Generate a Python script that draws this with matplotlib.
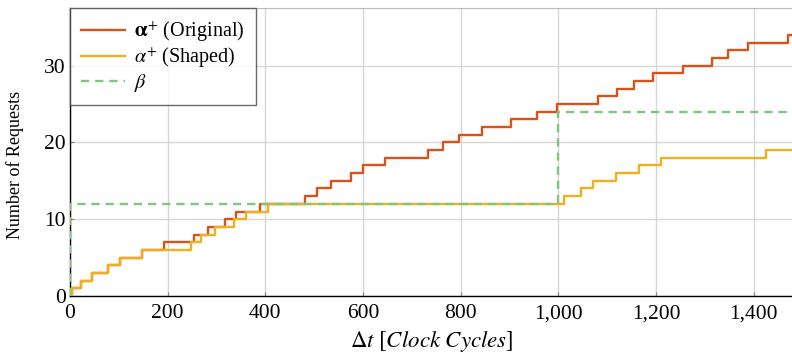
import matplotlib
matplotlib.use("Agg")
import matplotlib.pyplot as plt
from matplotlib.ticker import FuncFormatter

# Step positions (x where count increments)
orig_x = [0, 4, 23, 45, 78, 103, 148, 193, 254, 283, 317, 341, 389, 482, 506, 534,
          575, 600, 645, 733, 764, 797, 844, 904, 957, 998, 1082, 1120, 1154, 1194,
          1255, 1314, 1348, 1389, 1471, 1490]
orig_y = [0, 1, 2, 3, 4, 5, 6, 7, 8, 9, 10, 11, 12, 13, 14, 15,
          16, 17, 18, 19, 20, 21, 22, 23, 24, 25, 26, 27, 28, 29,
          30, 31, 32, 33, 34, 34]

shaped_x = [0, 4, 23, 45, 78, 103, 148, 247, 269, 296, 336, 360, 406, 1012, 1046,
            1070, 1117, 1166, 1211, 1426, 1490]
shaped_y = [0, 1, 2, 3, 4, 5, 6, 7, 8, 9, 10, 11, 12, 13, 14,
            15, 16, 17, 18, 19, 19]

beta_x = [0, 0, 1000, 1000, 1490]
beta_y = [0, 12, 12, 24, 24]

xticks = [0, 200, 400, 600, 800, 1000, 1200, 1400]
yticks = [0, 10, 20, 30]

plt.rcParams['font.family'] = ['Liberation Serif', 'DejaVu Serif']
plt.rcParams['mathtext.fontset'] = 'stix'

fig = plt.figure(figsize=(7.92, 3.56), dpi=100)
ax = fig.add_axes([0.0883, 0.1685, 0.914, 0.809])

ax.step(orig_x, orig_y, where='post', color='#D95319', lw=1.7,
        label=r'$\mathbf{\alpha}^{+}$ (Original)', zorder=3)
ax.step(shaped_x, shaped_y, where='post', color='#EDB120', lw=1.7,
        label=r'$\alpha^{+}$ (Shaped)', zorder=4)
ax.plot(beta_x, beta_y, color='#7DC87F', lw=1.7, ls=(0, (3.5, 2.5)),
        label=r'$\beta$', zorder=5)

ax.set_xlim(0, 1482)
ax.set_ylim(0, 37.5)
ax.set_xticks(xticks)
ax.set_yticks(yticks)
ax.xaxis.set_major_formatter(FuncFormatter(lambda v, p: f"{int(v):,}"))
ax.grid(True, color='#d6d6d6', lw=1.0)
ax.set_axisbelow(True)
ax.tick_params(direction='in', length=3, color='#808080', labelsize=15.5)
ax.tick_params(axis='x', pad=6)
ax.tick_params(axis='y', pad=3)

for s in ['top', 'right']:
    ax.spines[s].set_color('#bbbbbb')
for s in ['left', 'bottom']:
    ax.spines[s].set_color('black')
    ax.spines[s].set_linewidth(1.0)

ax.set_xlabel(r'$\Delta t\ \mathit{[Clock\ Cycles]}$', fontsize=16.5, labelpad=4)
ax.set_ylabel('Number of Requests', fontsize=13)
ax.yaxis.set_label_coords(-0.064, 0.455)

leg = ax.legend(loc='upper left', fontsize=14.5, frameon=True, fancybox=False,
                borderaxespad=0.0, handlelength=2.2, labelspacing=0.1,
                borderpad=0.55, handletextpad=0.45)
leg.get_frame().set_edgecolor('#444444')
leg.get_frame().set_linewidth(1.0)

fig.savefig('out.png', dpi=100)
